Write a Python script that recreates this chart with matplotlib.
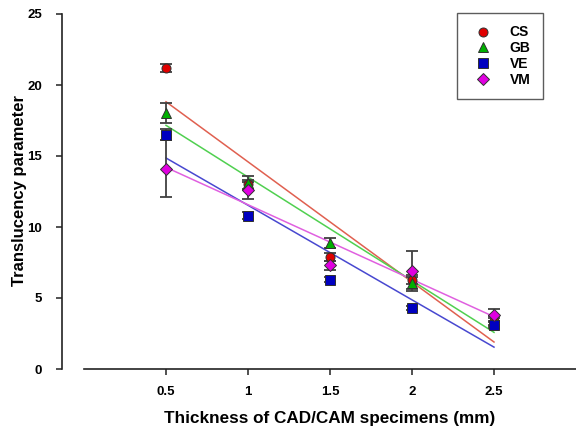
import matplotlib
matplotlib.use("Agg")
import matplotlib.pyplot as plt
import numpy as np

plt.rcParams['font.family'] = ['Liberation Sans', 'DejaVu Sans']

thickness = [0.5, 1.0, 1.5, 2.0, 2.5]
series = ["CS", "GB", "VE", "VM"]
cs_vals = [21.2, 13.0, 7.9, 6.3, 3.4]
gb_vals = [18.0, 13.1, 8.9, 6.05, 3.3]
ve_vals = [16.5, 10.8, 6.3, 4.3, 3.1]
vm_vals = [14.1, 12.6, 7.3, 6.9, 3.8]
cs_err = [0.3, 0.3, 0.3, 0.3, 0.3]
gb_err = [0.7, 0.5, 0.35, 0.4, 0.3]
ve_err = [0.4, 0.25, 0.2, 0.15, 0.2]
vm_err = [2.0, 0.6, 0.3, 1.4, 0.4]
xticks = [0.5, 1, 1.5, 2, 2.5]
xticklabels = ["0.5", "1", "1.5", "2", "2.5"]
yticks = [0, 5, 10, 15, 20, 25]

values = [cs_vals, gb_vals, ve_vals, vm_vals]
errors = [cs_err, gb_err, ve_err, vm_err]
marker_colors = ["#e00000", "#00b000", "#0000c0", "#e000e0"]
line_colors = ["#e06050", "#50d050", "#4848d0", "#e060e0"]
markers = ["o", "^", "s", "D"]
msizes = [6.5, 7, 6.5, 6]

fig = plt.figure(figsize=(5.76, 4.3), dpi=100)
ax = fig.add_axes([84/576, 61/430, 1 - 84/576, 355/430])

x = np.array(thickness)
for vals, col in zip(values, line_colors):
    k, b = np.polyfit(x, vals, 1)
    xx = np.array([x.min(), x.max()])
    ax.plot(xx, k*xx + b, color=col, lw=1.1, zorder=2)

handles = []
for name, vals, err, mc, mk, ms in zip(series, values, errors, marker_colors, markers, msizes):
    ax.errorbar(x, vals, yerr=err, fmt='none', ecolor='#404040', elinewidth=1.3,
                capsize=4, capthick=1.3, zorder=3)
    h, = ax.plot(x, vals, linestyle='none', marker=mk, ms=ms, markerfacecolor=mc,
                 markeredgecolor='#303030', markeredgewidth=0.7, zorder=4, label=name)
    handles.append(h)

ax.set_xlim(0, 3)
ax.set_ylim(0, 25)
ax.set_xticks(xticks)
ax.set_xticklabels(xticklabels)
ax.set_yticks(yticks)
ax.spines['top'].set_visible(False)
ax.spines['right'].set_visible(False)
ax.spines['left'].set_position(('outward', 16))
for s in ['left', 'bottom']:
    ax.spines[s].set_linewidth(1.2)
    ax.spines[s].set_color('#222222')
ax.tick_params(direction='out', length=4, width=1.1, color='#222222')
ax.tick_params(axis='x', pad=8)
ax.tick_params(axis='y', pad=10)
for lab in ax.get_xticklabels() + ax.get_yticklabels():
    lab.set_fontweight('bold')
    lab.set_fontsize(9.5)

fig.text(330/576, 1 - 419/430, "Thickness of CAD/CAM specimens (mm)", ha='center', va='center',
         fontsize=12.3, fontweight='bold')
fig.text(20/576, 1 - 191/430, "Translucency parameter", ha='center', va='center',
         rotation=90, fontsize=12, fontweight='bold')

leg = fig.legend(handles=handles, loc='upper left',
                 bbox_to_anchor=(457/576, 1 - 13/430), frameon=True, fancybox=False,
                 prop={'weight': 'bold', 'size': 10}, handlelength=2.0, handletextpad=0.9,
                 borderpad=0.9, labelspacing=0.12, borderaxespad=0)
leg.get_frame().set_edgecolor('#333333')
leg.get_frame().set_linewidth(1.0)

fig.savefig("out.png", dpi=100)
